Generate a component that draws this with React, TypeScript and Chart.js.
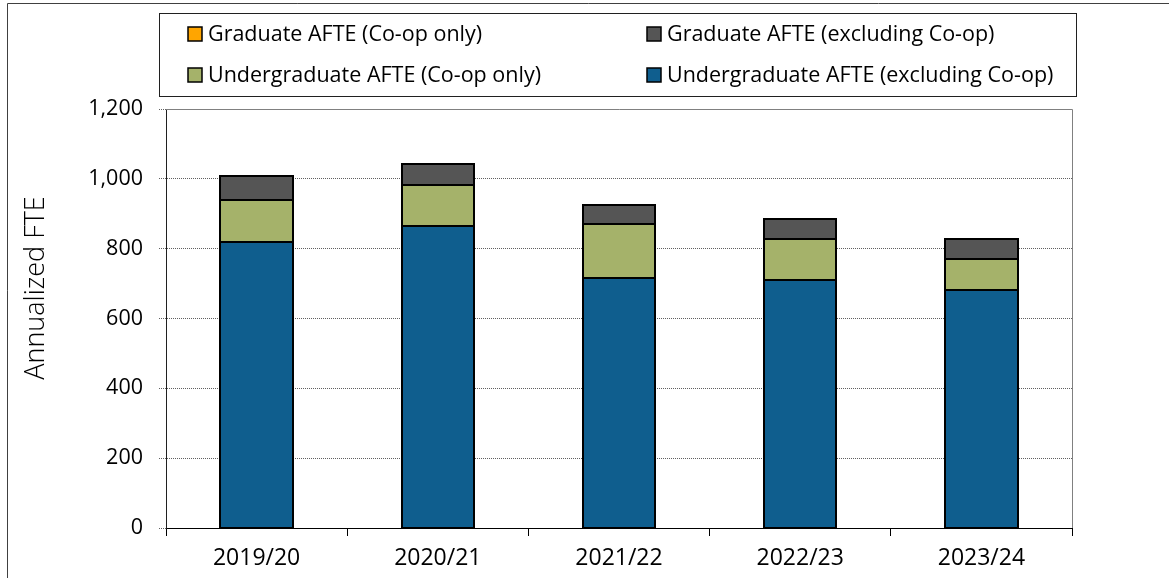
import React, { useEffect, useRef } from 'react';
import { Chart, registerables } from 'chart.js';

Chart.register(...registerables);

const categories = ['2019/20', '2020/21', '2021/22', '2022/23', '2023/24'];
const undergradExclCoop = [818, 866, 717, 710, 682];
const undergradCoopOnly = [120, 115, 154, 119, 87];
const gradExclCoop = [70, 62, 55, 55, 60];
const gradCoopOnly = [0, 0, 0, 0, 0];
const yMin = 0;
const yMax = 1200;
const yStep = 200;
const yTitle = 'Annualized FTE';

const FONT = '"Open Sans", sans-serif';
const W = 1169;
const H = 578;

// legend order (dataset indices), row by row, two columns
const legendOrder = [3, 2, 1, 0];

const decorPlugin = {
  id: 'decor',
  beforeDraw(chart: any) {
    const ctx = chart.ctx;
    ctx.save();
    ctx.fillStyle = '#ffffff';
    ctx.fillRect(0, 0, chart.width, chart.height);
    ctx.restore();
  },
  beforeDatasetsDraw(chart: any) {
    const { ctx, chartArea } = chart;
    ctx.save();
    ctx.strokeStyle = '#808080';
    ctx.lineWidth = 1;
    ctx.beginPath();
    ctx.moveTo(chartArea.left, chartArea.top + 0.5);
    ctx.lineTo(chartArea.right + 0.5, chartArea.top + 0.5);
    ctx.lineTo(chartArea.right + 0.5, chartArea.bottom);
    ctx.stroke();
    ctx.restore();
  },
  afterDatasetsDraw(chart: any) {
    const ctx = chart.ctx;
    ctx.save();
    ctx.strokeStyle = '#000000';
    ctx.lineWidth = 2;
    chart.data.datasets.forEach((ds: any, di: number) => {
      const meta = chart.getDatasetMeta(di);
      meta.data.forEach((el: any, i: number) => {
        if (!ds.data[i]) return;
        const { x, y, base, width } = el.getProps(['x', 'y', 'base', 'width'], true);
        const left = Math.round(x - width / 2);
        const right = Math.round(x + width / 2);
        const top = Math.round(Math.min(y, base));
        const bottom = Math.round(Math.max(y, base));
        ctx.strokeRect(left, top, right - left, bottom - top);
      });
    });
    ctx.restore();
  },
  afterDraw(chart: any) {
    const ctx = chart.ctx;
    ctx.save();
    // outer frame
    ctx.strokeStyle = '#404040';
    ctx.lineWidth = 1;
    ctx.beginPath();
    ctx.moveTo(7.5, H);
    ctx.lineTo(7.5, 3.5);
    ctx.lineTo(W, 3.5);
    ctx.stroke();

    // legend box
    const bx = 159, by = 13, bw = 1076 - 159, bh = 96 - 13;
    ctx.strokeStyle = '#202020';
    ctx.strokeRect(bx + 0.5, by + 0.5, bw, bh);
    const colX = [188, 647];
    const rowY = [34, 75];
    ctx.font = '21.5px ' + FONT;
    ctx.textBaseline = 'middle';
    ctx.textAlign = 'left';
    legendOrder.forEach((dsIndex, i) => {
      const ds = chart.data.datasets[dsIndex];
      const x = colX[i % 2];
      const y = rowY[Math.floor(i / 2)];
      ctx.fillStyle = ds.backgroundColor;
      ctx.fillRect(x, y - 7, 14, 14);
      ctx.strokeStyle = '#000000';
      ctx.lineWidth = 1.5;
      ctx.strokeRect(x, y - 7, 14, 14);
      ctx.fillStyle = '#000000';
      ctx.fillText(ds.label, x + 20, y + 1);
    });

    // y title
    ctx.translate(36, 288);
    ctx.rotate(-Math.PI / 2);
    ctx.textAlign = 'center';
    ctx.textBaseline = 'middle';
    ctx.font = '300 27px ' + FONT;
    ctx.fillStyle = '#000000';
    ctx.fillText(yTitle, 0, 0);
    ctx.restore();
  },
};

export default function App() {
  const canvasRef = useRef<HTMLCanvasElement | null>(null);

  useEffect(() => {
    if (!canvasRef.current) return;
    const common = {
      borderWidth: 0,
      barPercentage: 0.4,
      categoryPercentage: 1.0,
      inflateAmount: 0,
    };
    const chart = new Chart(canvasRef.current, {
      type: 'bar',
      data: {
        labels: categories,
        datasets: [
          { label: 'Undergraduate AFTE (excluding Co-op)', data: undergradExclCoop, backgroundColor: '#0F5E8E', ...common },
          { label: 'Undergraduate AFTE (Co-op only)', data: undergradCoopOnly, backgroundColor: '#A5B26A', ...common },
          { label: 'Graduate AFTE (excluding Co-op)', data: gradExclCoop, backgroundColor: '#555555', ...common },
          { label: 'Graduate AFTE (Co-op only)', data: gradCoopOnly, backgroundColor: '#FFA500', ...common },
        ],
      },
      options: {
        responsive: false,
        animation: false,
        devicePixelRatio: 1,
        layout: { padding: { left: 0, top: 109, right: W - 1072, bottom: 0 } },
        plugins: {
          legend: { display: false },
          tooltip: { enabled: false },
          title: { display: false },
        },
        scales: {
          x: {
            stacked: true,
            grid: {
              display: true,
              drawOnChartArea: false,
              drawTicks: true,
              tickLength: 8,
              color: '#000000',
              offset: true,
            },
            border: { display: true, color: '#000000', width: 1 },
            ticks: {
              color: '#000000',
              font: { family: FONT, size: 23 },
              padding: 9,
              maxRotation: 0,
            },
            afterFit(scale: any) {
              scale.height = H - 528;
            },
          },
          y: {
            stacked: true,
            min: yMin,
            max: yMax,
            grid: {
              display: true,
              drawOnChartArea: true,
              drawTicks: true,
              tickLength: 7,
              color: (c: any) => (c.tick && (c.tick.value === 0 || c.tick.value === yMax) ? 'rgba(0,0,0,0)' : '#606060'),
              tickColor: '#606060',
              tickBorderDash: [1, 1],
            },
            border: { display: true, color: '#202020', width: 1, dash: [1, 1] },
            ticks: {
              stepSize: yStep,
              color: '#000000',
              font: { family: FONT, size: 21.5 },
              padding: 16,
              callback: (v: any) => Number(v).toLocaleString('en-US'),
            },
            afterFit(scale: any) {
              scale.width = 166;
            },
          },
        },
      },
      plugins: [decorPlugin],
    });
    return () => chart.destroy();
  }, []);

  return (
    <div style={{ position: 'absolute', left: 0, top: 0, width: W, height: H, background: '#fff' }}>
      <canvas ref={canvasRef} width={W} height={H} style={{ display: 'block' }} />
    </div>
  );
}
